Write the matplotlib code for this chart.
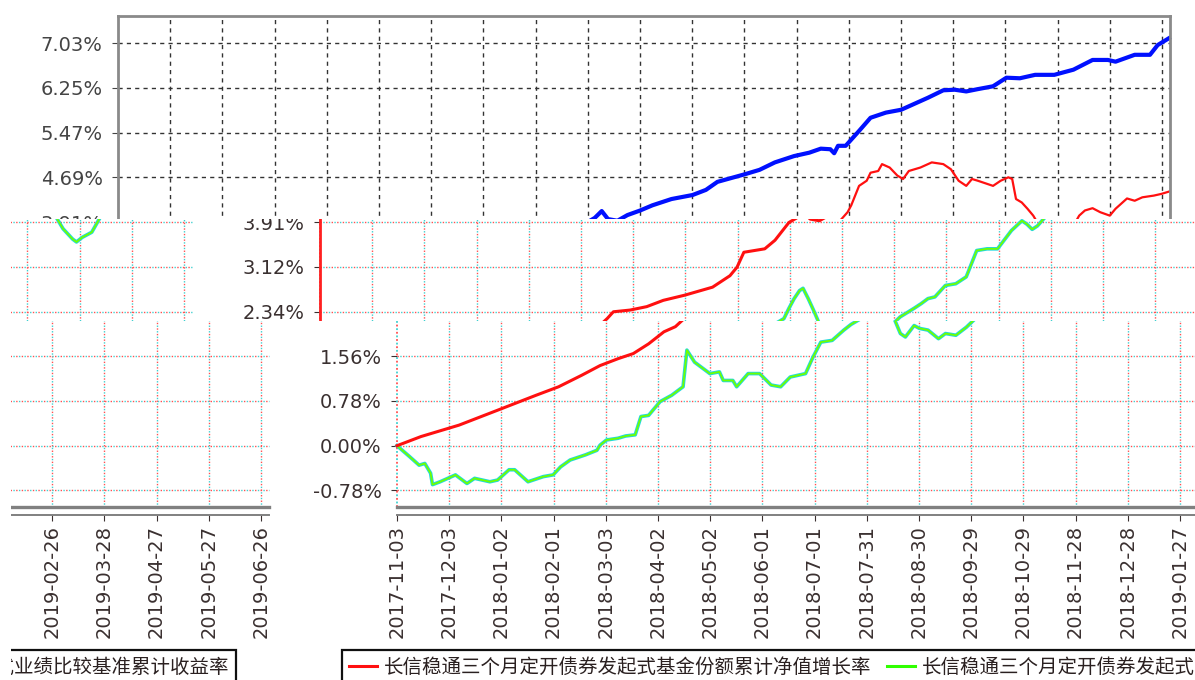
import matplotlib
matplotlib.use("Agg")
import matplotlib.pyplot as plt
from matplotlib.lines import Line2D
from matplotlib.transforms import Bbox, TransformedBbox

plt.rcParams['font.family'] = ['DejaVu Sans']

# x is days after 2017-11-03
tick_days = [0, 30, 60, 90, 120, 150, 180, 210, 240, 270, 300,
             330, 360, 390, 420, 450, 480, 510, 540, 570, 600]
tick_labels = ["2017-11-03", "2017-12-03", "2018-01-02", "2018-02-01",
               "2018-03-03", "2018-04-02", "2018-05-02", "2018-06-01",
               "2018-07-01", "2018-07-31", "2018-08-30", "2018-09-29",
               "2018-10-29", "2018-11-28", "2018-12-28", "2019-01-27",
               "2019-02-26", "2019-03-28", "2019-04-27", "2019-05-27",
               "2019-06-26"]
y_ticks = [-0.78125, 0.0, 0.78125, 1.5625, 2.34375, 3.125,
           3.90625, 4.6875, 5.46875, 6.25, 7.03125]
y_labels = ["-0.78%", "0.00%", "0.78%", "1.56%", "2.34%", "3.12%",
            "3.91%", "4.69%", "5.47%", "6.25%", "7.03%"]

fund_name = "长信稳通三个月定开债券发起式基金份额累计净值增长率"
bench_name = "长信稳通三个月定开债券发起式业绩比较基准累计收益率"

fund_day = [0, 13.8, 35.7, 57.8, 79.8, 92.9, 106.1, 116.7, 127, 135.8,
            144.6, 153.4, 160, 165, 168.6, 178.2, 187.8, 197.3, 209.6,
            225.6, 235.6, 239.7, 243.6, 255.6, 261.5, 269.5, 274, 278,
            281.6, 287, 292.8, 300.1, 307.1, 318.1, 330.2, 337.9, 344.5,
            359.9, 368.7, 377.5, 388.5, 397.3, 403.9, 409.4, 411.6, 413.8,
            418.2, 425.9, 432.5, 441.3, 450.1, 456.7, 465.5, 474.3, 480.9,
            487.5, 494.1, 502.9, 510.6, 518.3, 527.1, 538.1, 549.1, 560.1,
            568.9, 573.3, 584.3, 593.1, 597.5, 604]
fund_pct = [0.00, 0.16, 0.36, 0.62, 0.88, 1.03, 1.23, 1.40, 1.52, 1.61,
            1.78, 1.99, 2.08, 2.22, 2.34, 2.37, 2.43, 2.54, 2.63,
            2.77, 2.97, 3.12, 3.38, 3.44, 3.59, 3.90, 3.98, 4.10,
            3.96, 3.93, 4.03, 4.11, 4.20, 4.31, 4.38, 4.47, 4.61,
            4.74, 4.82, 4.95, 5.06, 5.12, 5.19, 5.18, 5.11, 5.24,
            5.24, 5.50, 5.73, 5.82, 5.87, 5.96, 6.08, 6.21, 6.22,
            6.19, 6.23, 6.28, 6.43, 6.42, 6.48, 6.48, 6.57, 6.74,
            6.74, 6.71, 6.83, 6.83, 7.00, 7.12]

bench_day = [0, 7.2, 12.7, 16.0, 19.3, 20.4, 24.8, 33.6, 40.2, 44.6,
             53.4, 57.8, 64.4, 67.6, 75.3, 84.1, 89.7, 94.0, 99.5, 108.3,
             114.9, 116.7, 120.4, 127, 131.4, 136.9, 140.2, 144.6, 151.2,
             157.8, 164.4, 166.6, 171, 179.8, 185.3, 187.5, 193, 195.2,
             201.8, 208.4, 215, 220.5, 226, 234.8, 239.1, 243.6, 250.1,
             256.8, 261, 266.6, 269.5, 272.5, 275.6, 277.6, 280.6, 283.6,
             286, 289.3, 292.2, 297.2, 300.2, 305.2, 311.2, 315.2, 321.2,
             327.2, 333.4, 341.4, 345.4, 349.4, 353.4, 359.4, 365.4, 371.4,
             377.4, 383.4, 389.4, 391.4, 397.4, 403.4, 406.3, 409.3, 412.3,
             419.3, 421.4, 425.9, 430.3, 432.5, 436.9, 439.1, 443.5, 447.9,
             451.2, 454.5, 461.1, 467.7, 474.3, 478.7, 483.1, 487.5, 490.8,
             494.1, 502.9, 507.3, 511.7, 513.9, 516.1, 519.4, 522.7, 526,
             530.5, 536, 538.2, 541.5, 547, 552.4, 555.7, 560.1, 564.5,
             570, 573.3, 579.9, 584.3, 588.7, 595.3, 599.7, 604]
bench_pct = [0.00, -0.19, -0.34, -0.31, -0.48, -0.68, -0.63, -0.51, -0.66, -0.57,
             -0.63, -0.60, -0.42, -0.42, -0.63, -0.54, -0.51, -0.37, -0.25, -0.16,
             -0.08, 0.01, 0.10, 0.13, 0.17, 0.19, 0.51, 0.53, 0.77,
             0.88, 1.03, 1.67, 1.46, 1.26, 1.29, 1.14, 1.14, 1.03,
             1.26, 1.26, 1.06, 1.03, 1.20, 1.26, 1.55, 1.81, 1.84,
             2.02, 2.12, 2.22, 2.40, 2.57, 2.71, 2.75, 2.57, 2.37,
             2.20, 1.96, 1.90, 2.10, 2.05, 2.02, 1.87, 1.96, 1.93,
             2.07, 2.25, 2.40, 2.48, 2.57, 2.60, 2.80, 2.83, 2.95,
             3.41, 3.44, 3.44, 3.52, 3.76, 3.93, 3.87, 3.78, 3.84,
             4.08, 4.20, 4.54, 4.63, 4.77, 4.80, 4.92, 4.86, 4.72,
             4.66, 4.80, 4.86, 4.95, 4.92, 4.83, 4.63, 4.54, 4.66,
             4.63, 4.54, 4.63, 4.69, 4.66, 4.31, 4.25, 4.14, 4.02,
             3.79, 3.61, 3.56, 3.64, 3.73, 4.02, 4.11, 4.15, 4.08,
             4.02, 4.14, 4.32, 4.28, 4.34, 4.37, 4.40, 4.44]

# layout in pixels of the unshifted chart
W, H = 1195, 680
PLOT_L, PLOT_R, PLOT_T, PLOT_B = 118, 1170, 16, 507
X_END = 604.6
Y_TOP, Y_BOT = 7.508, -1.071
WRAP = 1180

fig = plt.figure(figsize=(W / 100, H / 100), dpi=100)
fig.patch.set_facecolor('white')

looks = {
    'top': dict(fund=[('#0010ff', 3.0)], bench=[('#ff1010', 1.6)],
                grid=[('#333333', (0, (3, 3)))], ink='#444444'),
    'low': dict(fund=[('#ff1010', 2.2)],
                bench=[('#20d8e0', 2.6), ('#70ff00', 1.3)],
                grid=[('#ff5050', (0, (1, 3))), ('#40d0d0', (2, (1, 3)))],
                ink='#3a3030'),
}


def px_x(dx, day):
    return PLOT_L + dx + day * (PLOT_R - PLOT_L) / X_END


def px_y(v):
    return PLOT_T + (Y_TOP - v) / (Y_TOP - Y_BOT) * (PLOT_B - PLOT_T)


def panel(dx, x0, x1, top, bottom, name, left_spine=None, bottom_axis=False,
          legend=False):
    look = looks[name]
    ax = fig.add_axes([(PLOT_L + dx) / W, 1 - PLOT_B / H,
                       (PLOT_R - PLOT_L) / W, (PLOT_B - PLOT_T) / H])
    ax.patch.set_visible(False)
    ax.set_xlim(0, X_END)
    ax.set_ylim(Y_BOT, Y_TOP)
    ax.set_xticks(tick_days, tick_labels)
    ax.set_yticks(y_ticks, y_labels)
    ax.tick_params(axis='x', labelrotation=90, labelsize=14, length=4, pad=3,
                   colors=look['ink'])
    ax.tick_params(axis='y', labelsize=14, length=4, pad=7, colors=look['ink'])

    for gcol, gls in look['grid']:
        for t in tick_days[1:]:
            ax.axvline(t, color=gcol, lw=1, ls=gls)
        for t in y_ticks:
            ax.axhline(t, color=gcol, lw=1, ls=gls)
        if name == 'low':
            ax.axvline(0, color=gcol, lw=1.3, ls=gls)

    for col, lw in look['bench']:
        ax.plot(bench_day, bench_pct, color=col, lw=lw)
    for col, lw in look['fund']:
        ax.plot(fund_day, fund_pct, color=col, lw=lw)

    if name == 'top':
        for s in ax.spines.values():
            s.set_color('#8a8a8a')
            s.set_linewidth(2)
    else:
        for s in ax.spines.values():
            s.set_visible(False)
        if left_spine:
            ax.spines['left'].set_visible(True)
            ax.spines['left'].set_color(left_spine)
            ax.spines['left'].set_linewidth(2)
        if bottom_axis:
            ax.spines['bottom'].set_visible(True)
            ax.spines['bottom'].set_color('#808080')
            ax.spines['bottom'].set_linewidth(1.4)
            ax.spines['bottom'].set_position(('outward', 6))
            ax.axhline(Y_BOT, color='#808080', lw=2.4, clip_on=False)

    # only keep the tick labels that can show inside this strip
    for t, lab in zip(tick_days, ax.get_xticklabels()):
        x = px_x(dx, t)
        lab.set_visible(bottom_axis and x0 + 8 < x < x1 + 8)
    for v, lab in zip(y_ticks, ax.get_yticklabels()):
        y = px_y(v)
        xr = PLOT_L + dx - 16
        lab.set_visible(top - 7 < y < bottom + 7 and x0 < xr - 30 and xr < x1 + 40)

    if legend:
        handles = [Line2D([], [], color='#ff1010', lw=2.2),
                   Line2D([], [], color='#30ff00', lw=2.2)]
        leg = ax.legend(handles, [fund_name, bench_name], ncol=2,
                        loc='upper center',
                        bbox_to_anchor=((600 - PLOT_L) / (PLOT_R - PLOT_L),
                                        (PLOT_B - 650) / (PLOT_B - PLOT_T)),
                        prop={'family': ['Noto Sans CJK SC', 'DejaVu Sans'],
                              'size': 14},
                        frameon=True, fancybox=False, framealpha=1,
                        edgecolor='#101010', borderpad=0.35,
                        handlelength=1.45, handletextpad=0.35,
                        columnspacing=0.8, borderaxespad=0)
        leg.get_frame().set_linewidth(1.6)
        for txt in leg.get_texts():
            txt.set_color('#2a2020')
        # legend box spans unshifted x 56..1144: hide the entry that is wholly outside
        if dx < 0:
            leg.get_texts()[0].set_visible(False)

    clip = TransformedBbox(Bbox.from_extents(x0 / W, 1 - bottom / H,
                                             x1 / W, 1 - top / H),
                           fig.transFigure)
    for art in ax.findobj():
        if art is not ax:
            art.set_clip_box(clip)
            art.set_clip_on(True)
    return ax


# top strip, drawn in place
panel(0, 0, W, 0, 219, 'top')
# middle strip, shifted right and wrapped round
panel(202, 202, W, 219, 321, 'low', left_spine='#ff2020')
panel(202 - WRAP, 11, 202, 219, 321, 'low', left_spine='#ff2020')
# lower strip, shifted further and wrapped round
panel(279, 279, W, 321, H, 'low', bottom_axis=True, legend=True)
panel(279 - WRAP, 11, 279, 321, H, 'low', bottom_axis=True, legend=True)

fig.savefig("out.png", dpi=100)
